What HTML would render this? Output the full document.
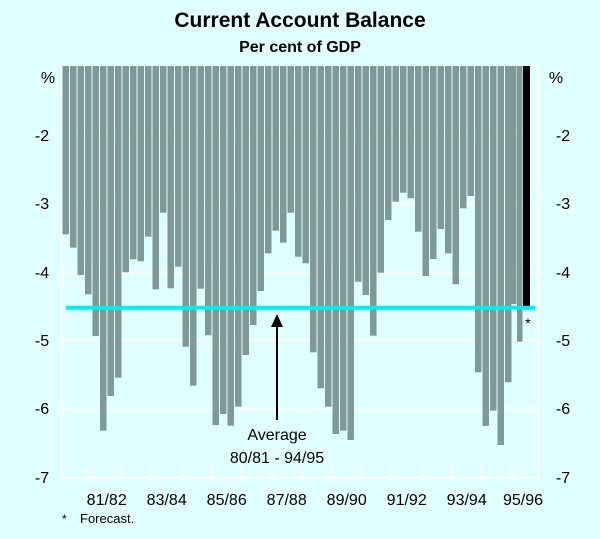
<!DOCTYPE html>
<html><head><meta charset="utf-8"><style>
body{margin:0;background:#e0ffff;}
svg{display:block;font-family:"Liberation Sans",Arial,sans-serif;}
</style></head><body>
<svg width="600" height="539" xmlns="http://www.w3.org/2000/svg">
<rect width="600" height="539" fill="#e0ffff"/>
<text x="300" y="27" font-size="21" font-weight="bold" text-anchor="middle">Current Account Balance</text>
<text x="300" y="52" font-size="16" font-weight="bold" text-anchor="middle">Per cent of GDP</text>
<g stroke="#fff" stroke-width="2">
<line x1="62" y1="135" x2="538" y2="135"/><line x1="62" y1="203.5" x2="538" y2="203.5"/>
<line x1="62" y1="272" x2="538" y2="272"/><line x1="62" y1="340" x2="538" y2="340"/>
<line x1="62" y1="408.5" x2="538" y2="408.5"/>
<rect x="62" y="66" width="476" height="412" fill="none"/>
</g>
<g fill="#7f9997">
<rect x="62.5" y="66" width="6.5" height="168.3"/>
<rect x="70" y="66" width="6.5" height="181.7"/>
<rect x="77.5" y="66" width="6.5" height="209"/>
<rect x="85" y="66" width="6.5" height="228.3"/>
<rect x="92.5" y="66" width="6.5" height="270"/>
<rect x="100" y="66" width="6.5" height="364.7"/>
<rect x="107.5" y="66" width="6.5" height="330"/>
<rect x="115" y="66" width="6.5" height="311.7"/>
<rect x="122.5" y="66" width="6.5" height="206.3"/>
<rect x="130" y="66" width="6.5" height="193.3"/>
<rect x="137.5" y="66" width="6.5" height="195.3"/>
<rect x="145" y="66" width="6.5" height="170.7"/>
<rect x="152.5" y="66" width="6.5" height="223.3"/>
<rect x="160" y="66" width="6.5" height="146.7"/>
<rect x="167.5" y="66" width="6.5" height="222.3"/>
<rect x="175" y="66" width="6.5" height="200.7"/>
<rect x="182.5" y="66" width="6.5" height="280.7"/>
<rect x="190" y="66" width="6.5" height="319.7"/>
<rect x="197.5" y="66" width="6.5" height="222.7"/>
<rect x="205" y="66" width="6.5" height="269.3"/>
<rect x="212.5" y="66" width="6.5" height="359"/>
<rect x="220" y="66" width="6.5" height="348"/>
<rect x="227.5" y="66" width="6.5" height="359.7"/>
<rect x="235" y="66" width="6.5" height="340.7"/>
<rect x="242.5" y="66" width="6.5" height="289"/>
<rect x="250" y="66" width="6.5" height="259"/>
<rect x="257.5" y="66" width="6.5" height="225"/>
<rect x="265" y="66" width="6.5" height="187.3"/>
<rect x="272.5" y="66" width="6.5" height="164.7"/>
<rect x="280" y="66" width="6.5" height="176.7"/>
<rect x="287.5" y="66" width="6.5" height="146.7"/>
<rect x="295" y="66" width="6.5" height="190.7"/>
<rect x="302.5" y="66" width="6.5" height="197.3"/>
<rect x="310" y="66" width="6.5" height="286.3"/>
<rect x="317.5" y="66" width="6.5" height="322.3"/>
<rect x="325" y="66" width="6.5" height="340.7"/>
<rect x="332.5" y="66" width="6.5" height="368"/>
<rect x="340" y="66" width="6.5" height="364.7"/>
<rect x="347.5" y="66" width="6.5" height="374"/>
<rect x="355" y="66" width="6.5" height="215.7"/>
<rect x="362.5" y="66" width="6.5" height="229"/>
<rect x="370" y="66" width="6.5" height="269.7"/>
<rect x="377.5" y="66" width="6.5" height="206.7"/>
<rect x="385" y="66" width="6.5" height="154"/>
<rect x="392.5" y="66" width="6.5" height="135.7"/>
<rect x="400" y="66" width="6.5" height="126.7"/>
<rect x="407.5" y="66" width="6.5" height="132.3"/>
<rect x="415" y="66" width="6.5" height="165.7"/>
<rect x="422.5" y="66" width="6.5" height="210"/>
<rect x="430" y="66" width="6.5" height="193"/>
<rect x="437.5" y="66" width="6.5" height="163"/>
<rect x="445" y="66" width="6.5" height="187.3"/>
<rect x="452.5" y="66" width="6.5" height="218.3"/>
<rect x="460" y="66" width="6.5" height="142.3"/>
<rect x="467.5" y="66" width="6.5" height="130"/>
<rect x="475" y="66" width="6.5" height="306.3"/>
<rect x="482.5" y="66" width="6.5" height="360"/>
<rect x="490" y="66" width="6.5" height="344.7"/>
<rect x="497.5" y="66" width="6.5" height="379"/>
<rect x="505" y="66" width="6.5" height="316.3"/>
<rect x="511.5" y="66" width="5" height="238"/>
<rect x="517" y="66" width="5.5" height="275.7"/>
</g>
<rect x="523" y="66" width="7" height="240" fill="#000"/>
<line x1="66" y1="307.7" x2="535" y2="307.7" stroke="#00f0f0" stroke-width="4"/>
<g stroke="#fff" stroke-width="2">
<line x1="91.7" y1="468" x2="91.7" y2="478"/><line x1="121.7" y1="468" x2="121.7" y2="478"/>
<line x1="151.7" y1="468" x2="151.7" y2="478"/><line x1="181.7" y1="468" x2="181.7" y2="478"/>
<line x1="211.7" y1="468" x2="211.7" y2="478"/><line x1="241.7" y1="468" x2="241.7" y2="478"/>
<line x1="271.7" y1="468" x2="271.7" y2="478"/><line x1="301.7" y1="468" x2="301.7" y2="478"/>
<line x1="331.7" y1="468" x2="331.7" y2="478"/><line x1="361.7" y1="468" x2="361.7" y2="478"/>
<line x1="391.7" y1="468" x2="391.7" y2="478"/><line x1="421.7" y1="468" x2="421.7" y2="478"/>
<line x1="451.7" y1="468" x2="451.7" y2="478"/><line x1="481.7" y1="468" x2="481.7" y2="478"/>
<line x1="511.7" y1="468" x2="511.7" y2="478"/>
</g>
<line x1="277" y1="326" x2="277" y2="420" stroke="#000" stroke-width="2"/>
<polygon points="277,314 271,327 283,327" fill="#000"/>
<text x="277" y="440" font-size="16" text-anchor="middle">Average</text>
<text x="277" y="463" font-size="16" text-anchor="middle">80/81 - 94/95</text>
<text x="528" y="328" font-size="14" text-anchor="middle">*</text>
<g font-size="16" text-anchor="middle">
<text x="48" y="83">%</text><text x="556" y="83">%</text>
<text x="42" y="141">-2</text><text x="42" y="209">-3</text><text x="42" y="278">-4</text><text x="42" y="346">-5</text><text x="42" y="414">-6</text><text x="42" y="483">-7</text>
<text x="563" y="141">-2</text><text x="563" y="209">-3</text><text x="563" y="278">-4</text><text x="563" y="346">-5</text><text x="563" y="414">-6</text><text x="563" y="483">-7</text>
<text x="106.7" y="505">81/82</text><text x="166.7" y="505">83/84</text><text x="226.7" y="505">85/86</text><text x="286.7" y="505">87/88</text><text x="346.7" y="505">89/90</text><text x="406.7" y="505">91/92</text><text x="466.7" y="505">93/94</text><text x="523" y="505">95/96</text>
</g>
<text x="62" y="523" font-size="12">*</text><text x="80" y="523" font-size="13">Forecast.</text>
</svg>
</body></html>
